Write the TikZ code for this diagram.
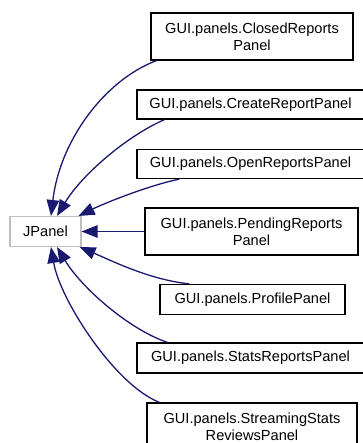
\documentclass[tikz,border=0pt]{standalone}
\usepackage{fontspec}
\setmainfont{Liberation Sans}
\usetikzlibrary{arrows.meta,calc}
\definecolor{edgeblue}{RGB}{25,25,112}
\definecolor{basegray}{RGB}{191,191,191}
\tikzset{
  cls/.style={draw=black, line width=1.3pt, rectangle, inner sep=0pt, align=center,
    font=\fontsize{14.6}{17}\selectfont, fill=white},
  basecls/.style={cls, draw=basegray, line width=1.1pt},
  inh/.style={draw=edgeblue, line width=1.3pt, -{Triangle[length=16pt,width=12.5pt]}}
}
\begin{document}
\begin{tikzpicture}[x=1pt,y=-1pt]
\useasboundingbox (0,0) rectangle (362,443);
\node[basecls, minimum width=71pt, minimum height=30pt] (jpanel) at (45.5,231.5) {JPanel};
\node[cls, minimum width=202pt, minimum height=47pt] (closed) at (252,36.5) {GUI.panels.ClosedReports\\Panel};
\node[cls, minimum width=227pt, minimum height=29pt] (create) at (250.5,104.5) {GUI.panels.CreateReportPanel};
\node[cls, minimum width=227pt, minimum height=29pt] (open) at (250.5,164) {GUI.panels.OpenReportsPanel};
\node[cls, minimum width=213pt, minimum height=47pt] (pending) at (251.5,231.5) {GUI.panels.PendingReports\\Panel};
\node[cls, minimum width=185pt, minimum height=30pt] (profile) at (252.5,299.5) {GUI.panels.ProfilePanel};
\node[cls, minimum width=227pt, minimum height=30pt] (stats) at (250.5,358) {GUI.panels.StatsReportsPanel};
\node[cls, minimum width=210pt, minimum height=47pt] (stream) at (252,426.5) {GUI.panels.StreamingStats\\ReviewsPanel};

\draw[inh] ($(closed.south west)+(6,0)$) .. controls (105,80) and (60,140) .. ($(jpanel.north)+(5.5,0)$);
\draw[inh] ($(create.south west)+(28,0)$) .. controls (125,137) and (81,176) .. ($(jpanel.north)+(11.5,0)$);
\draw[inh] ($(open.south west)+(43,0)$) .. controls (150,185) and (105,203) .. ($(jpanel.north east)+(-3,0)$);
\draw[inh] (pending.west) -- (jpanel.east);
\draw[inh] ($(profile.north west)+(30,0)$) .. controls (150,280) and (110,260) .. ($(jpanel.south east)+(-2,0)$);
\draw[inh] ($(stats.north west)+(31,0)$) .. controls (128,329) and (81,287) .. ($(jpanel.south)+(11.5,0)$);
\draw[inh] ($(stream.north west)+(13,0)$) .. controls (115,385) and (60,300) .. ($(jpanel.south)+(5.5,0)$);
\end{tikzpicture}
\end{document}
